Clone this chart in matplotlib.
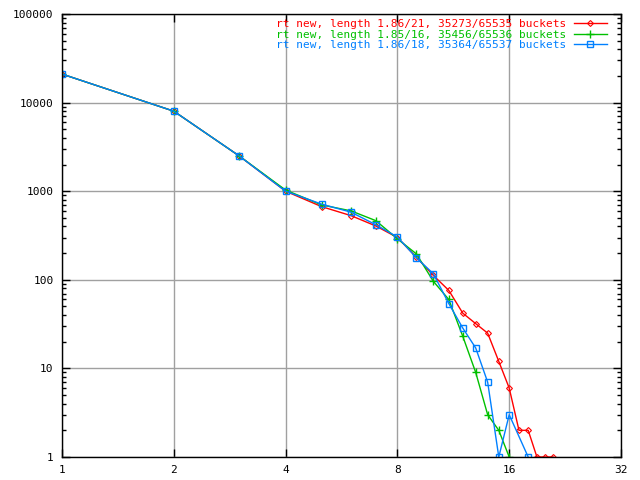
import matplotlib
matplotlib.use("Agg")
import matplotlib.pyplot as plt
from matplotlib.ticker import FixedLocator, FixedFormatter, LogLocator, NullFormatter, NullLocator
import numpy as np

# chain length distribution per hash table variant
red_x = [1, 2, 3, 4, 5, 6, 7, 8, 9, 10, 11, 12, 13, 14, 15, 16, 17, 18, 19, 20, 21]
red_y = [21000, 8000, 2500, 1000, 670, 530, 405, 300, 180, 112, 76, 42, 32, 25, 12, 6, 2, 2, 1, 1, 1]

green_x = [1, 2, 3, 4, 5, 6, 7, 8, 9, 10, 11, 12, 13, 14, 15, 16]
green_y = [21000, 8000, 2500, 1030, 700, 600, 465, 290, 196, 96, 60, 23, 9, 3, 2, 1]

blue_x = [1, 2, 3, 4, 5, 6, 7, 8, 9, 10, 11, 12, 13, 14, 15, 16, 18]
blue_y = [21000, 8000, 2500, 1000, 715, 580, 418, 304, 177, 117, 54, 28.5, 17, 7, 1, 3, 1]

labels = [
    "rt new, length 1.86/21, 35273/65535 buckets",
    "rt new, length 1.85/16, 35456/65536 buckets",
    "rt new, length 1.86/18, 35364/65537 buckets",
]

x_ticks = [1, 2, 4, 8, 16, 32]
y_ticks = [1, 10, 100, 1000, 10000, 100000]

plt.rcParams['font.family'] = ['DejaVu Sans Mono']

fig = plt.figure(figsize=(6.4, 4.8), dpi=100)
ax = fig.add_axes([62 / 640, 23 / 480, 559 / 640, 443 / 480])

ax.plot(red_x, red_y, color='#ff0000', lw=1, marker='D', ms=3,
        mfc='none', mew=0.8, label=labels[0])
ax.plot(green_x, green_y, color='#00c000', lw=1, marker='+', ms=6,
        mew=1, label=labels[1])
ax.plot(blue_x, blue_y, color='#0080ff', lw=1, marker='s', ms=4.5,
        mfc='none', mew=1, label=labels[2])

ax.set_xscale('log', base=2)
ax.set_yscale('log')
ax.set_xlim(1, 32)
ax.set_ylim(1, 100000)

ax.xaxis.set_major_locator(FixedLocator(x_ticks))
ax.xaxis.set_major_formatter(FixedFormatter([str(v) for v in x_ticks]))
ax.xaxis.set_minor_locator(NullLocator())
ax.yaxis.set_major_locator(FixedLocator(y_ticks))
ax.yaxis.set_major_formatter(FixedFormatter([str(v) for v in y_ticks]))
ax.yaxis.set_minor_locator(LogLocator(base=10, subs=np.arange(2, 10), numticks=20))
ax.yaxis.set_minor_formatter(NullFormatter())

ax.grid(True, which='major', color='#a0a0a0', lw=1)
ax.tick_params(which='both', direction='in', top=True, right=True,
               labelsize=8, color='black', pad=6)
ax.tick_params(which='major', length=6, width=1)
ax.tick_params(which='minor', length=3, width=1)
for s in ax.spines.values():
    s.set_linewidth(1)

ax.legend(loc='upper right', frameon=False, markerfirst=False, fontsize=8,
          handlelength=3.0, handletextpad=0.7, labelspacing=0.05,
          borderaxespad=0, borderpad=0,
          bbox_to_anchor=(607 / 640, 1 - 19 / 480),
          bbox_transform=fig.transFigure, labelcolor='linecolor')

fig.savefig('out.png', dpi=100)
